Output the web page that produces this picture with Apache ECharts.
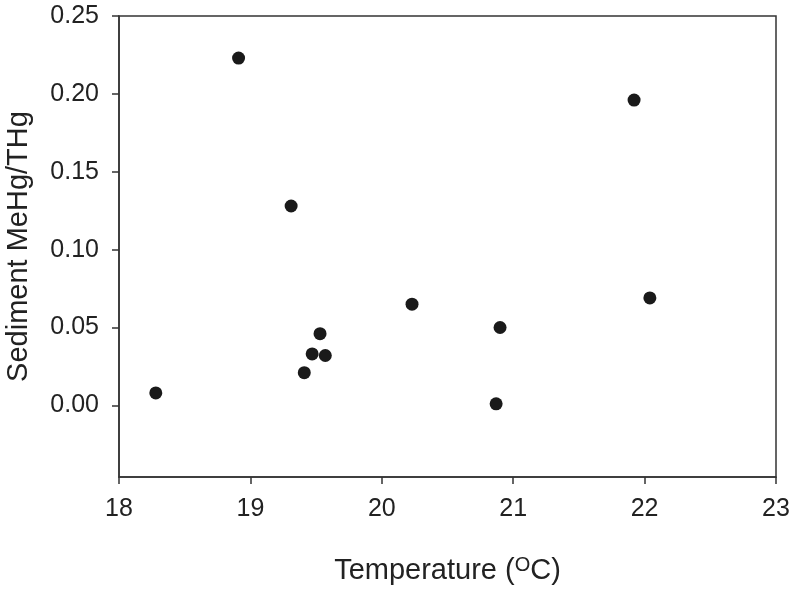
<!DOCTYPE html>
<html><head><meta charset="utf-8">
<script src="https://cdn.jsdelivr.net/npm/echarts@6/dist/echarts.min.js"></script>
<style>html,body{margin:0;padding:0;background:#fff}#c{width:796px;height:590px}</style>
</head><body><div id="c"></div>
<script>
const temperature = [18.28, 18.91, 19.31, 20.23, 19.53, 19.47, 19.57, 19.41, 20.90, 20.87, 21.92, 22.04];
const ratio = [0.008, 0.223, 0.128, 0.065, 0.046, 0.033, 0.032, 0.021, 0.050, 0.001, 0.196, 0.069];
const yTicks = [0.00, 0.05, 0.10, 0.15, 0.20, 0.25];
const xTicks = [18, 19, 20, 21, 22, 23];

const font = 'Liberation Sans, Arial, sans-serif';
const chart = echarts.init(document.getElementById('c'), null, {renderer: 'canvas'});
chart.setOption({
  animation: false,
  backgroundColor: '#fff',
  grid: {left: 119, right: 20, top: 16, bottom: 113, outerBoundsMode: 'none', containLabel: false,
    show: true, borderColor: '#333', borderWidth: 1.5, backgroundColor: 'transparent'},
  xAxis: {
    type: 'value', min: xTicks[0], max: xTicks[xTicks.length-1], interval: 1,
    axisLine: {show: true, onZero: false, lineStyle: {color: '#333', width: 1.5}},
    axisTick: {show: true, length: 7, lineStyle: {color: '#333', width: 1.5}},
    splitLine: {show: false},
    axisLabel: {color: '#222', fontSize: 25, fontFamily: font, margin: 20},
    name: '{a|Temperature (}{s|O}{a|C)}', nameLocation: 'middle', nameGap: 78,
    nameTextStyle: {rich: {
      a: {fontSize: 29, fontFamily: font, color: '#222'},
      s: {fontSize: 20, fontFamily: font, color: '#222', verticalAlign: 'top', padding: [0,0,12,0]}
    }}
  },
  yAxis: {
    type: 'value', min: -0.046, max: 0.25,
    axisLine: {show: true, onZero: false, lineStyle: {color: '#333', width: 1.5}},
    axisTick: {show: true, length: 7, customValues: yTicks, lineStyle: {color: '#333', width: 1.5}},
    splitLine: {show: false},
    axisLabel: {color: '#222', fontSize: 25, fontFamily: font, margin: 20, customValues: yTicks,
      formatter: v => v.toFixed(2)},
    name: 'Sediment MeHg/THg', nameLocation: 'middle', nameGap: 86,
    nameTextStyle: {fontSize: 29, fontFamily: font, color: '#222'}
  },
  series: [{
    type: 'scatter',
    data: temperature.map((t, i) => [t, ratio[i]]),
    symbolSize: 13,
    itemStyle: {color: '#1a1a1a', opacity: 1}
  }]
});
</script></body></html>
